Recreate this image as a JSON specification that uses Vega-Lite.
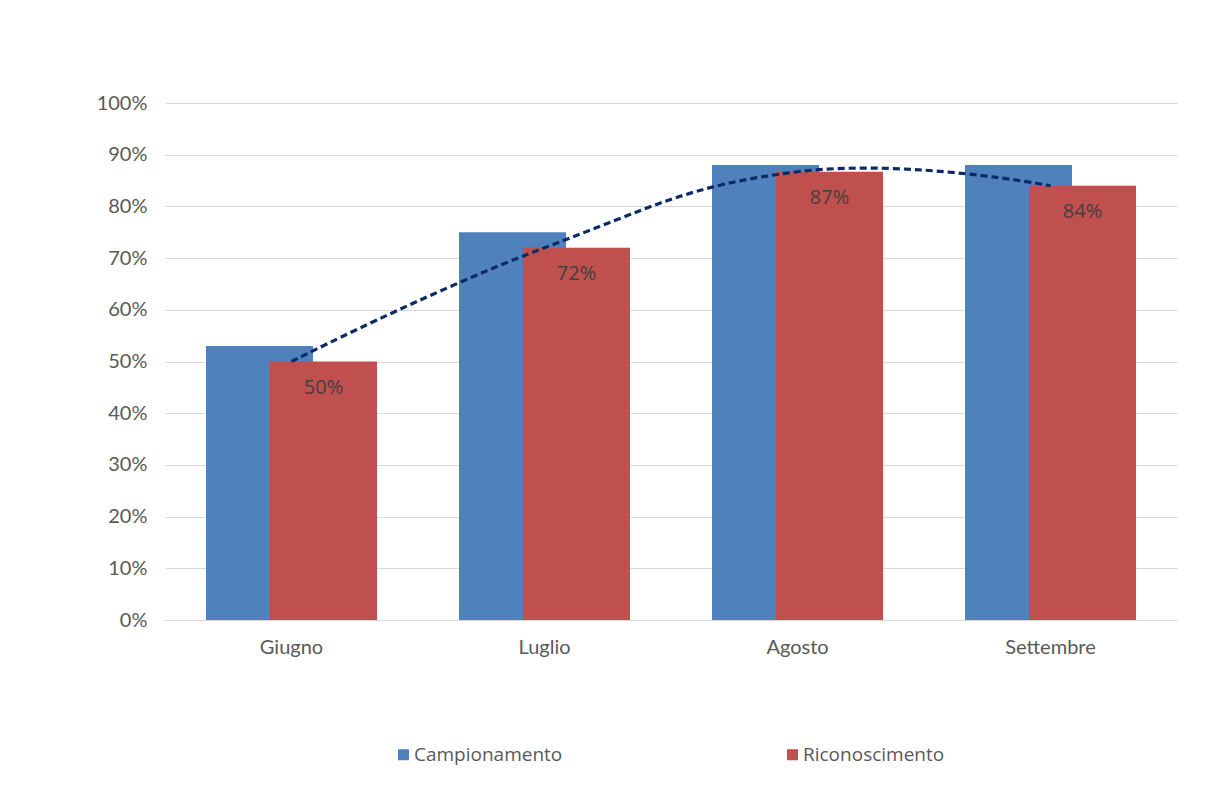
{
  "$schema": "https://vega.github.io/schema/vega-lite/v6.json",
  "width": 1012,
  "height": 517,
  "autosize": "none",
  "padding": {"left": 165, "top": 103, "right": 46, "bottom": 189},
  "background": "white",
  "config": {
    "view": {"stroke": null},
    "font": "Lato",
    "axis": {"labelFont": "Lato", "labelFontSize": 20, "labelColor": "#595959"},
    "legend": {"labelFont": "Open Sans", "labelFontSize": 19, "labelColor": "#595959"}
  },
  "data": {
    "values": [
      {"mese": "Giugno", "serie": "Campionamento", "valore": 0.53},
      {"mese": "Luglio", "serie": "Campionamento", "valore": 0.75},
      {"mese": "Agosto", "serie": "Campionamento", "valore": 0.88},
      {"mese": "Settembre", "serie": "Campionamento", "valore": 0.88},
      {"mese": "Giugno", "serie": "Riconoscimento", "valore": 0.50},
      {"mese": "Luglio", "serie": "Riconoscimento", "valore": 0.72},
      {"mese": "Agosto", "serie": "Riconoscimento", "valore": 0.867},
      {"mese": "Settembre", "serie": "Riconoscimento", "valore": 0.84}
    ]
  },
  "encoding": {
    "x": {
      "field": "mese", "type": "nominal", "sort": null,
      "scale": {"paddingInner": 0, "paddingOuter": 0},
      "axis": {"title": null, "labelAngle": 0, "ticks": false, "domain": true, "domainColor": "#d9d9d9", "labelPadding": 17}
    },
    "y": {
      "field": "valore", "type": "quantitative",
      "scale": {"domain": [0, 1], "nice": false},
      "axis": {"title": null, "format": ".0%", "values": [0,0.1,0.2,0.3,0.4,0.5,0.6,0.7,0.8,0.9,1], "ticks": false, "domain": false, "gridColor": "#d9d9d9", "labelPadding": 18}
    }
  },
  "layer": [
    {
      "transform": [{"filter": "datum.serie === 'Campionamento'"}],
      "mark": {"type": "bar", "width": 107, "xOffset": -32},
      "encoding": {
        "color": {"field": "serie", "type": "nominal",
          "scale": {"domain": ["Campionamento", "Riconoscimento"], "range": ["#4F81BD", "#C0504D"]},
          "legend": {"title": null, "orient": "none", "legendX": 229, "legendY": 642, "direction": "horizontal", "symbolType": "square", "symbolSize": 121, "symbolStrokeWidth": 0, "columnPadding": 220, "labelOffset": 1}}
      }
    },
    {
      "transform": [{"filter": "datum.serie === 'Riconoscimento'"}],
      "mark": {"type": "bar", "width": 107, "xOffset": 32},
      "encoding": {
        "color": {"field": "serie", "type": "nominal"}
      }
    },
    {
      "transform": [{"filter": "datum.serie === 'Riconoscimento'"}],
      "mark": {"type": "text", "xOffset": 32, "dy": 26, "baseline": "middle", "fontSize": 20, "font": "Open Sans", "color": "#404040"},
      "encoding": {
        "text": {"field": "valore", "type": "quantitative", "format": ".0%"}
      }
    },
    {
      "transform": [{"filter": "datum.serie === 'Riconoscimento'"}],
      "mark": {"type": "line", "interpolate": "cardinal", "tension": -0.3, "color": "#0B2A66", "strokeWidth": 3.2, "strokeDash": [7, 4]},
      "encoding": {}
    }
  ]
}
